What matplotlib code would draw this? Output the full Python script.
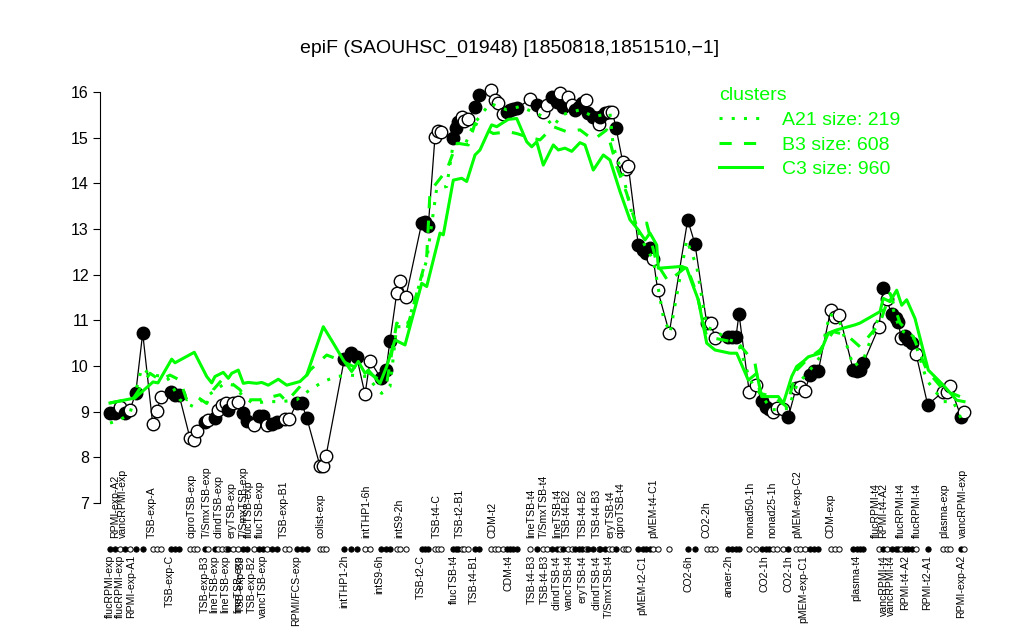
import matplotlib
matplotlib.use("Agg")
import matplotlib.pyplot as plt
from matplotlib.lines import Line2D

plt.rcParams['font.family'] = ['Liberation Sans', 'DejaVu Sans']

# expression of epiF per experiment (x = position along the condition axis)
pos = [2.0, 3.0, 4.0, 5.0, 6.0, 7.14, 8.54, 10.54, 11.34, 12.2, 14.2, 15.0, 15.8,
       18.0, 18.86, 19.34, 21.0, 21.66, 23.0, 23.66, 24.34, 25.2, 25.66, 26.66, 27.54,
       28.54, 29.34, 30.86, 31.86, 32.66, 33.34, 34.34, 35.34, 37.0, 37.86, 39.34,
       40.34, 41.34, 44.0, 44.54, 45.2, 48.86, 50.14, 51.34, 53.0, 54.0, 56.2, 57.2,
       58.0, 59.34, 60.0, 61.2, 64.34, 65.0, 65.66, 67.0, 67.66, 68.2, 70.54, 71.2,
       71.66, 72.34, 72.86, 73.66, 75.0, 75.8, 78.2, 79.0, 79.66, 80.54, 81.34, 82.0,
       82.66, 83.34, 86.0, 87.34, 88.66, 89.34, 90.34, 91.34, 92.0, 92.66, 93.54,
       94.34, 95.0, 95.86, 96.46, 97.2, 97.66, 98.66, 99.8, 100.0, 101.0, 101.86,
       102.46, 103.2, 104.54, 105.2, 105.66, 107.66, 108.66, 109.14, 110.0, 110.66,
       111.54, 113.86, 117.54, 119.0, 121.34, 122.14, 123.0, 125.66, 126.34, 127.2,
       127.8, 129.86, 131.2, 132.34, 133.2, 133.86, 134.54, 135.46, 136.54, 137.66,
       139.2, 140.0, 141.0, 142.0, 142.8, 143.66, 146.14, 147.0, 147.86, 150.66,
       151.46, 152.0, 152.66, 155.8, 156.66, 157.34, 158.34, 159.14, 159.66, 160.2,
       161.0, 161.66, 162.34, 163.2, 165.54, 168.66, 169.34, 170.0, 172.2, 172.86]
expr = [8.96, 8.98, 9.11, 8.96, 9.04, 9.40, 10.72, 8.73, 9.02, 9.31, 9.44, 9.37, 9.37,
        8.42, 8.38, 8.58, 8.78, 8.82, 8.87, 9.04, 9.15, 9.19, 9.04, 9.18, 9.22,
        8.96, 8.80, 8.71, 8.91, 8.91, 8.71, 8.72, 8.78, 8.85, 8.85, 9.18,
        9.18, 8.87, 7.81, 7.80, 8.03, 10.15, 10.28, 10.20, 9.38, 10.11, 9.73, 9.91,
        10.55, 11.59, 11.85, 11.52, 13.13, 13.16, 13.07, 15.02, 15.15, 15.13, 15.00, 15.22,
        15.35, 15.46, 15.37, 15.40, 15.66, 15.93, 16.04, 15.82, 15.75, 15.52, 15.57, 15.61,
        15.62, 15.64, 15.84, 15.72, 15.57, 15.72, 15.90, 15.79, 15.97, 15.68, 15.88,
        15.72, 15.61, 15.68, 15.75, 15.83, 15.53, 15.46, 15.29, 15.46, 15.53, 15.57,
        15.57, 15.22, 14.47, 14.31, 14.38, 12.65, 12.54, 12.47, 12.58, 12.34,
        11.66, 10.73, 13.20, 12.67, 10.95, 10.95, 10.61, 10.64, 10.64, 10.64,
        11.14, 9.42, 9.58, 9.24, 9.11, 9.06, 8.99, 9.07, 9.05, 8.88,
        9.51, 9.53, 9.46, 9.80, 9.88, 9.89, 11.23, 11.08, 11.12, 9.91,
        9.88, 9.91, 10.06, 10.86, 11.70, 11.46, 11.13, 11.04, 10.97, 10.61,
        10.66, 10.57, 10.50, 10.27, 9.15, 9.44, 9.44, 9.56, 8.89, 9.00]
filled = "FFOFOFFOOOFFFOOOFOFOOOFOOFFOFFOFFOOFFFOOOFFFOOFFFOOOFFFOOOFFFOOOFFOOOOFFFFOFOOFFOFOOFFFOFFOFFOOFOOOFFFFOOOFFOOOFFFFOOFFFOOOFOOOFFFOOOFFFFOFOFFFOFFFOFOOOFO"

top_labels = ["RPMI-exp-A2", "vancRPMI-exp", "TSB-exp-A", "ciproTSB-exp", "T/SmxTSB-exp",
              "clindTSB-exp", "eryTSB-exp", "T/SmxTSB-exp", "flucTSB-exp", "flucTSB-exp",
              "TSB-exp-B1", "colist-exp", "intTHP1-6h", "intS9-2h", "TSB-t4-C", "TSB-t2-B1",
              "CDM-t2", "lineTSB-t4", "T/SmxTSB-t4", "lineTSB-t4", "TSB-t4-B2", "TSB-t4-B2",
              "TSB-t4-B3", "eryTSB-t4", "ciproTSB-t4", "pMEM-t4-C1", "CO2-2h", "nonad50-1h",
              "nonad25-1h", "pMEM-exp-C2", "CDM-exp", "flucRPMI-t4", "RPMI-t4-A2",
              "flucRPMI-t4", "flucRPMI-t4", "plasma-exp", "vancRPMI-exp"]
top_pos = [3.0, 4.6, 10.4, 18.34, 21.4, 23.8, 26.34, 28.66, 29.8, 32.0, 36.8, 44.0,
           53.2, 59.8, 67.3, 72.0, 78.4, 86.2, 88.8, 91.4, 93.4, 96.6, 99.4, 102.0,
           104.2, 110.6, 121.4, 130.0, 134.4, 139.4, 146.0, 155.2, 156.6, 160.2, 163.4,
           168.8, 172.6]
bot_labels = ["flucRPMI-exp", "flucRPMI-exp", "RPMI-exp-A1", "TSB-exp-C", "TSB-exp-B3",
              "lineTSB-exp", "lineTSB-exp", "lineTSB-exp", "TSB-exp-B3", "TSB-exp-B2",
              "vancTSB-exp", "RPMI/FCS-exp", "intTHP1-2h", "intS9-6h", "TSB-t2-C",
              "flucTSB-t4", "TSB-t4-B1", "CDM-t4", "TSB-t4-B3", "TSB-t4-B3", "clindTSB-t4",
              "vancTSB-t4", "eryTSB-t4", "clindTSB-t4", "T/SmxTSB-t4", "pMEM-t2-C1",
              "CO2-6h", "anaer-2h", "CO2-1h", "CO2-1h", "pMEM-exp-C1", "plasma-t4",
              "vancRPMI-t4", "vancRPMI-t4", "RPMI-t4-A2", "RPMI-t2-A1", "RPMI-exp-A2"]
bot_pos = [2.0, 4.0, 6.2, 14.0, 21.0, 22.8, 25.0, 27.6, 28.2, 30.4, 32.6, 39.2, 48.8,
           55.8, 64.2, 70.8, 74.8, 81.6, 86.4, 89.0, 91.2, 93.8, 96.6, 99.4, 101.8,
           108.4, 117.6, 125.8, 133.0, 137.6, 140.6, 151.2, 156.8, 158.2, 161.0, 165.4,
           172.2]

# cluster profiles
c3_x = [2.0, 7.0, 10.6, 11.6, 14.34, 15.0, 18.86, 21.34, 22.34, 23.0, 24.66, 25.66, 26.34,
        27.66, 28.66, 29.66, 31.34, 32.34, 33.66, 35.66, 37.34, 40.0, 41.34, 44.66, 46.66,
        48.66, 50.34, 51.66, 53.0, 53.66, 56.0, 57.34, 59.0, 61.0, 64.34, 65.34, 68.0,
        68.66, 70.66, 72.34, 73.34, 75.0, 76.0, 77.66, 78.34, 79.34, 80.34, 81.66, 83.34,
        85.34, 86.34, 87.34, 88.66, 90.66, 91.66, 93.0, 94.34, 96.0, 97.0, 98.66, 100.66,
        102.0, 104.0, 106.0, 107.66, 109.0, 110.0, 111.34, 111.66, 116.34, 117.34, 118.66,
        119.66, 121.34, 123.0, 126.0, 127.34, 129.66, 131.34, 132.34, 134.0, 135.66,
        136.66, 138.34, 139.34, 140.66, 141.66, 144.0, 145.66, 147.34, 151.0, 152.0,
        156.0, 156.66, 158.0, 159.34, 160.34, 161.34, 163.0, 165.66, 168.66, 171.34, 172.8]
c3_y = [9.19, 9.30, 9.65, 9.63, 10.15, 10.07, 10.30, 9.77, 9.63, 9.77, 9.86, 9.73, 9.84,
        9.91, 9.62, 9.64, 9.62, 9.64, 9.58, 9.71, 9.58, 9.66, 9.80, 10.86, 10.50,
        10.13, 9.88, 10.10, 9.84, 9.91, 9.62, 9.99, 10.57, 10.46, 11.81, 11.74, 12.91,
        12.87, 14.07, 14.11, 14.04, 14.62, 14.73, 15.13, 15.28, 15.24, 15.31, 15.40, 15.42,
        14.91, 14.80, 14.91, 14.40, 14.84, 14.73, 14.77, 14.70, 14.89, 14.84, 14.29, 14.62,
        14.51, 13.82, 13.20, 12.98, 12.76, 12.91, 12.65, 12.14, 12.18, 12.14, 11.74,
        11.45, 10.50, 10.35, 10.28, 10.28, 9.69, 9.84, 9.33, 9.33, 9.33,
        9.18, 9.77, 9.99, 10.10, 10.20, 10.28, 10.72, 10.79, 10.90, 10.94,
        11.19, 11.48, 11.41, 11.66, 11.33, 11.45, 11.04, 9.91, 9.58, 9.25, 9.22]
a21_x = [2.0, 4.0, 6.0, 8.34, 10.34, 13.34, 16.0, 18.66, 22.66, 25.0, 26.66, 28.66, 30.66,
         33.34, 36.34, 39.34, 42.0, 44.66, 47.34, 50.0, 53.34, 56.34, 58.0, 59.34, 61.34,
         65.34, 67.34, 69.34, 70.66, 73.0, 74.66, 78.0, 81.34, 84.0, 87.34, 89.34, 90.66,
         92.34, 96.0, 98.66, 102.0, 102.66, 104.66, 106.66, 108.34, 110.66, 112.66, 114.0,
         117.34, 119.34, 121.34, 123.66, 126.0, 127.66, 130.0, 132.0, 134.34, 137.66,
         139.34, 142.0, 144.0, 146.0, 148.0, 150.66, 152.66, 156.0, 158.0, 160.0, 162.66,
         165.34, 168.66, 170.66, 172.34]
a21_y = [8.75, 8.82, 8.96, 9.95, 9.80, 9.77, 9.26, 9.11, 9.44, 9.62, 9.58, 9.33, 9.18,
         9.22, 9.22, 9.26, 9.48, 9.66, 9.77, 9.80, 9.77, 9.40, 9.55, 10.86, 10.86,
         12.32, 13.89, 13.93, 14.88, 14.84, 15.28, 15.75, 15.61, 15.68, 15.53, 15.42, 15.24,
         15.50, 15.61, 15.46, 15.53, 14.80, 14.15, 13.20, 12.76, 12.32, 11.08, 10.72,
         12.76, 12.18, 10.86, 10.72, 10.57, 10.50, 9.69, 9.40, 9.04, 9.07,
         9.58, 9.91, 10.20, 11.15, 10.94, 9.99, 10.13, 11.15, 11.45, 10.79, 10.64,
         9.69, 9.22, 9.22, 8.82]
b3_x = [2.0, 6.66, 10.0, 12.0, 14.0, 16.0, 17.34, 19.34, 21.34, 22.66, 24.34, 26.34, 28.0,
        29.34, 32.0, 36.0, 37.34, 40.0, 42.0, 45.34, 48.0, 50.66, 53.34, 56.0, 57.34, 59.34,
        61.34, 65.34, 66.0, 69.34, 71.34, 73.66, 75.0, 78.66, 81.66, 83.34, 85.34, 88.0,
        90.66, 93.34, 96.0, 98.66, 101.34, 103.34, 105.34, 107.34, 109.34, 111.34, 113.66,
        117.34, 119.34, 121.34, 124.66, 127.66, 131.0, 132.0, 134.66, 137.34, 139.34,
        141.34, 144.0, 146.66, 149.34, 152.0, 156.0, 158.0, 160.0, 162.66, 165.34, 168.66,
        172.0]
b3_y = [9.19, 9.29, 9.84, 9.69, 9.80, 9.69, 9.26, 9.33, 9.18, 9.48, 9.69, 9.62, 9.48,
        9.26, 9.26, 9.37, 9.22, 9.55, 9.91, 10.24, 10.13, 9.99, 9.88, 9.69, 9.62, 10.94,
        10.79, 12.39, 13.82, 14.29, 14.88, 14.84, 15.31, 15.09, 15.13, 15.09, 15.02, 14.95,
        15.24, 15.13, 15.17, 14.95, 15.17, 14.37, 13.78, 13.05, 13.13, 12.25, 11.85,
        12.18, 11.59, 10.64, 10.57, 10.50, 10.06, 9.40, 9.33, 9.11, 9.91,
        10.13, 10.35, 10.75, 10.68, 10.42, 10.94, 11.59, 10.94, 10.64, 9.91, 9.48,
        9.33]
cluster_names = ["A21 size: 219", "B3 size: 608", "C3 size: 960"]

green = "#00ff00"

fig = plt.figure(figsize=(10.24, 6.4), dpi=100)
ax = fig.add_axes([100 / 1024, 0, 880 / 1024, 580 / 640])
ax.set_xlim(0, 176)
ax.set_ylim(4.0, 16.70)

# data line and points
ax.plot(pos, expr, color="black", lw=0.9, zorder=2)
for x, y, f in zip(pos, expr, filled):
    fc = "black" if f == "F" else "white"
    ax.plot(x, y, "o", ms=9, mfc=fc, mec="black", mew=1, zorder=3)
    # small marker row under the axis
    ax.plot(x, 6.0, "o", ms=3.8, mfc=fc, mec="black", mew=0.7, clip_on=False, zorder=3)

# cluster lines
ax.plot(a21_x, a21_y, color=green, lw=2.2, dashes=(1, 3), zorder=4)
ax.plot(b3_x, b3_y, color=green, lw=2.2, dashes=(4, 4), zorder=4)
ax.plot(c3_x, c3_y, color=green, lw=2.2, zorder=4)

# condition labels
for lab, x in zip(top_labels, top_pos):
    ax.text(x, 6.23, lab, rotation=90, ha="center", va="bottom", fontsize=7.6)
for lab, x in zip(bot_labels, bot_pos):
    ax.text(x, 5.86, lab, rotation=90, ha="center", va="top", fontsize=7.6)

# axes styling
for s in ["top", "right", "bottom"]:
    ax.spines[s].set_visible(False)
ax.spines["left"].set_bounds(7, 16)
ax.spines["left"].set_linewidth(0.8)
ax.set_yticks(range(7, 17))
ax.tick_params(axis="y", length=5, width=0.8, labelsize=11.5, pad=3)
ax.set_xticks([])

# legend
handles = [Line2D([], [], color=green, lw=2.2, dashes=(1, 3)),
           Line2D([], [], color=green, lw=2.2, dashes=(4, 4)),
           Line2D([], [], color=green, lw=2.2)]
leg = ax.legend(handles, cluster_names, title="clusters", loc="upper left",
                bbox_to_anchor=(699 / 1024, 1 - 67 / 640), bbox_transform=fig.transFigure,
                frameon=False, fontsize=14, title_fontsize=14, handlelength=2.2,
                handletextpad=1.0, labelspacing=0.36, alignment="left", borderpad=0.55)
leg.get_title().set_color(green)
for t in leg.get_texts():
    t.set_color(green)

fig.text(0.498, 1 - 48 / 640, "epiF (SAOUHSC_01948) [1850818,1851510,\u22121]",
         ha="center", va="center", fontsize=14)

fig.savefig("out.png", dpi=100)
